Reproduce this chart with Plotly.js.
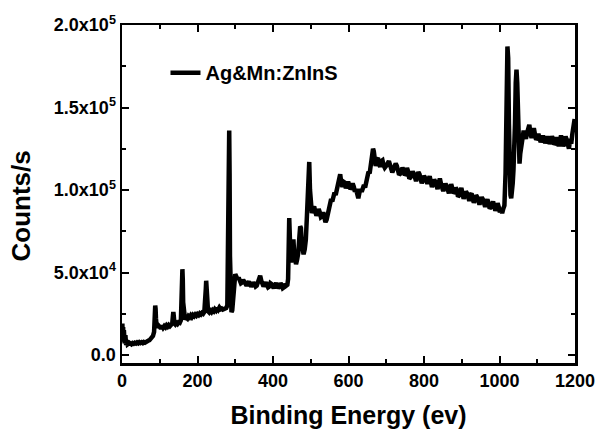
<!DOCTYPE html>
<html>
<head>
<meta charset="utf-8">
<script src="https://cdn.plot.ly/plotly-3.0.1.min.js"></script>
<style>html,body{margin:0;padding:0;background:#fff}#chart{width:600px;height:432px}</style>
</head>
<body>
<div id="chart"></div>
<script>
const seriesName = "Ag&Mn:ZnInS";
const energy = [
0,1,2,3,4,5,7,9,11,13,15,18,20,
22,25,28,31,34,37,40,43,46,49,52,55,58,61,64,67,70,73,76,79,82,85,87,88,89,90,92,94,96,98,
100,103,106,109,112,115,118,121,124,127,130,133,135,136,137,139,141,144,147,150,153,156,158,159,160,161,162,164,
167,170,173,176,179,182,185,188,191,194,197,200,203,206,209,212,215,218,220,222,223,224,226,228,
231,234,237,240,243,246,249,252,255,258,261,264,267,270,273,276,279,281,283,284,285,286,288,290,292,294,296,298,
300,303,306,309,312,315,318,321,324,327,330,333,336,339,342,345,348,351,354,357,360,363,366,369,372,375,378,381,384,387,
390,393,396,399,402,405,408,411,414,417,420,423,426,429,432,435,438,
440,441,442,443,444,446,448,450,452,454,456,458,461,464,467,470,472,474,476,478,481,484,487,490,492,494,496,498,
500,503,506,509,512,515,518,521,524,527,530,533,536,539,542,545,548,551,554,557,560,563,566,569,572,575,578,581,584,587,
590,593,596,599,602,605,608,611,614,617,620,623,626,629,632,635,638,641,644,647,650,653,656,659,662,665,667,669,
672,675,678,681,684,687,690,693,696,
701,704,707,710,713,716,719,722,725,728,731,734,737,740,743,746,749,752,755,758,761,764,767,770,773,776,779,782,785,788,
791,794,797,800,803,806,809,812,815,818,821,824,827,830,833,836,839,842,845,848,851,854,857,860,863,866,869,872,875,878,
881,884,887,890,893,896,899,902,905,908,911,914,917,920,923,926,929,932,935,938,941,944,947,950,953,956,959,962,965,968,
971,974,977,980,983,986,989,992,995,998,1001,1004,1007,1010,1013,
1016,1019,1021,1023,1025,1027,1029,1031,1033,1035,1037,1039,1041,1043,1045,1047,1049,1051,1053,
1055,1058,1061,1064,1067,1070,1073,1076,1079,1082,1085,1088,1091,1094,1097,1100,
1103,1106,1109,1112,1115,1118,1121,1124,1127,1130,1133,1136,1139,1142,1145,1148,1151,1154,1157,1160,1163,1166,1169,1172,
1175,1178,1181,1184,1187,1190,1193,1196,1199
];
const counts = [
12000,19000,9000,17000,8000,15000,7000,12000,6000,9000,6500,7000,6000,
7000,6500,7200,6800,7400,7000,7600,7100,7800,7300,7700,7200,7900,7500,8200,8000,8800,9000,9800,10500,11500,14000,22000,30000,28000,22000,17000,19000,16500,17500,
17000,16000,17800,16500,17500,16800,18000,17200,18200,17500,18500,19000,24000,26000,24000,19000,18500,19500,18800,19800,19500,21000,30000,44000,52000,46000,32000,23000,
21500,22500,22000,23500,22800,24000,23000,24200,23500,24500,23800,24800,24200,25200,24600,25500,25000,26000,30000,40000,45000,42000,30000,26500,
25800,26800,26000,27200,26500,27800,27000,28500,27500,28800,27800,28200,27500,28000,27800,28500,30000,60000,120000,136000,110000,60000,30000,26000,27000,35000,42000,47000,
49000,47500,46000,47000,45500,43500,44000,45500,44500,42500,42000,43500,44500,43000,41500,42500,44000,43000,41500,42000,44000,46500,48000,45000,42500,41500,43000,44000,42500,41000,
41500,43500,43000,41000,40500,42500,43500,42000,40500,41500,43500,42500,40500,41000,43000,42000,42500,
46000,60000,75000,83000,76000,62000,56000,60000,66000,70000,62000,57000,55000,58000,62000,72000,78000,77000,68000,63000,61000,64000,70000,85000,105000,116000,117000,100000,
88000,86000,88500,90000,87000,84500,86000,88500,86500,83500,84000,86500,83500,80500,82000,85000,88000,90000,94500,93000,96500,98500,97000,101000,104000,108000,109500,104000,102000,105000,
104500,101000,102500,105000,103000,100500,101500,104000,102000,99000,100500,97500,95000,98500,100500,99000,101500,103000,101500,105000,109000,111000,110000,115500,117000,125000,123500,116500,
114500,118500,119500,116000,114000,117500,118000,115000,113500,
115000,116700,117500,115200,112000,110700,112500,114200,116000,114700,111500,109200,109900,111700,113400,112200,108900,109700,113400,111200,106900,107600,109400,111100,109900,106600,105400,108100,110900,109600,
106400,104100,105800,108600,107300,104100,103800,106600,108300,105100,101800,103600,106300,105000,101800,100500,104300,107000,103800,100500,99300,102000,103700,102500,99200,98000,100700,103500,101200,98000,
98700,101400,100200,95900,96700,99400,101200,97900,94700,96400,99100,97900,94600,93400,97100,97900,94600,92300,94100,96800,95700,92300,91100,93800,95600,94300,91000,89800,92500,94300,
92000,88800,89500,92300,93000,89700,87500,89200,92000,89700,86500,88200,86000,88700,90500,
110000,160000,187000,180000,140000,110000,97000,95000,98000,104000,112000,120000,140000,165000,173000,165000,135000,118000,116000,
122000,129000,133000,136000,133000,131000,134500,136500,139500,134000,131500,134000,137500,133500,130500,131500,
134000,131500,129000,130500,133000,130500,128500,130000,132500,130500,128000,129500,132500,131000,127500,128500,132000,130000,126500,129500,133000,130000,126500,128500,
132500,130500,126000,125000,131000,128000,134000,139000,143000
];
const xTickVals = [0,200,400,600,800,1000,1200];
const yTickVals = [0,50000,100000,150000,200000];
const yTickText = ["0.0","5.0x10<sup>4</sup>","1.0x10<sup>5</sup>","1.5x10<sup>5</sup>","2.0x10<sup>5</sup>"];
const xMinor = [100,300,500,700,900,1100];
const yMinor = [25000,75000,125000,175000];

const fam = "Liberation Sans, Arial, sans-serif";
const trace = {x:energy, y:counts, type:"scatter", mode:"lines", name:seriesName,
  line:{color:"#000", width:4.5}};
const axisBase = {showline:true, linecolor:"#000", linewidth:2.5, mirror:"allticks",
  ticks:"inside", ticklen:7, tickwidth:2, tickcolor:"#000", showgrid:false, zeroline:false,
  tickfont:{family:fam, size:18, color:"#000", weight:"bold"}};
const layout = {
  width:600, height:432,
  margin:{l:122, r:25, t:25, b:69},
  paper_bgcolor:"#fff", plot_bgcolor:"#fff",
  showlegend:true,
  legend:{x:0.096, y:0.859, xanchor:"left", yanchor:"middle", bgcolor:"rgba(0,0,0,0)",
    font:{family:fam, size:20, color:"#000", weight:"bold"}},
  xaxis:Object.assign({}, axisBase, {range:[0,1200], tickmode:"array", tickvals:xTickVals,
    minor:{tickvals:xMinor, ticks:"inside", ticklen:4, tickwidth:2, tickcolor:"#000"},
    title:{text:"Binding Energy (ev)", standoff:17, font:{family:fam, size:25, color:"#000", weight:"bold"}}}),
  yaxis:Object.assign({}, axisBase, {range:[-4850,200000], tickmode:"array", tickvals:yTickVals, ticktext:yTickText,
    minor:{tickvals:yMinor, ticks:"inside", ticklen:4, tickwidth:2, tickcolor:"#000"}}),
  annotations:[{text:"Counts/s", xref:"paper", yref:"paper", x:-0.224, y:0.4645,
    xanchor:"center", yanchor:"middle", textangle:-90, showarrow:false,
    font:{family:fam, size:26, color:"#000", weight:"bold"}}]
};
Plotly.newPlot("chart", [trace], layout, {displayModeBar:false, staticPlot:true});
</script>
</body>
</html>
